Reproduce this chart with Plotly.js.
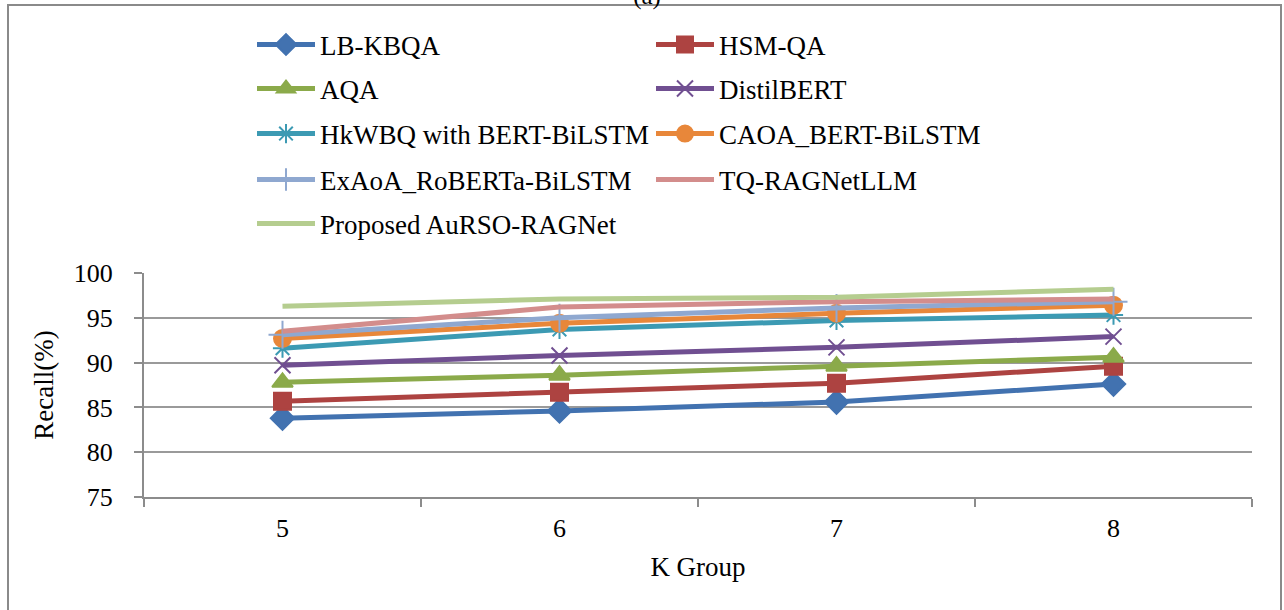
<!DOCTYPE html>
<html>
<head>
<meta charset="utf-8">
<script src="https://cdn.plot.ly/plotly-3.0.1.min.js"></script>
<style>html,body{margin:0;padding:0;background:#fff;}#chart{width:1284px;height:610px;}</style>
</head>
<body>
<div id="chart"></div>
<script>
const kGroups = ['5', '6', '7', '8'];
const seriesNames = ['LB-KBQA', 'HSM-QA', 'AQA', 'DistilBERT', 'HkWBQ with BERT-BiLSTM', 'CAOA_BERT-BiLSTM', 'ExAoA_RoBERTa-BiLSTM', 'TQ-RAGNetLLM', 'Proposed AuRSO-RAGNet'];
const lbKbqa = [83.8, 84.6, 85.6, 87.6];
const hsmQa = [85.7, 86.7, 87.7, 89.6];
const aqa = [87.8, 88.6, 89.6, 90.6];
const distilBert = [89.7, 90.8, 91.7, 92.9];
const hkwbq = [91.6, 93.7, 94.7, 95.3];
const caoa = [92.7, 94.4, 95.5, 96.4];
const exaoa = [93.1, 95.0, 96.1, 96.8];
const tqRag = [93.5, 96.2, 96.8, 97.1];
const proposed = [96.3, 97.1, 97.3, 98.2];
const yTickVals = [75, 80, 85, 90, 95, 100];

const seriesValues = [lbKbqa, hsmQa, aqa, distilBert, hkwbq, caoa, exaoa, tqRag, proposed];
const colors = ['#4272B0', '#AD4341', '#8BAA4A', '#704F91', '#3C9AB3', '#E8873A', '#8FA8D0', '#D38D8C', '#B5CD8F'];
const symbols = ['diamond', 'square', 'triangle-up', 'x-thin-open', 'asterisk-open', 'circle', 'cross-thin-open', null, null];
const sizes = [18, 17, 18, 16, 16, 17, 20, 0, 0];
const legendIds = ['legend', 'legend', 'legend2', 'legend2', 'legend3', 'legend3', 'legend4', 'legend4', 'legend5'];

const FONT = 'Liberation Serif, Times New Roman, serif';

const traces = seriesNames.map((name, i) => {
  const t = {
    type: 'scatter',
    x: kGroups,
    y: seriesValues[i],
    name: name,
    legend: legendIds[i],
    line: {color: colors[i], width: 5},
    hoverinfo: 'x+y+name'
  };
  if (symbols[i]) {
    t.mode = 'lines+markers';
    t.marker = {symbol: symbols[i], size: sizes[i], color: colors[i], line: {color: colors[i], width: 2}};
  } else {
    t.mode = 'lines';
  }
  return t;
});

const W = 1284, H = 610;
const L = 144, R = 1252, T = 273, B = 497;
const px2x = p => (p - L) / (R - L);
const py2y = p => (B - p) / (B - T);

function legendAt(yPix) {
  return {
    orientation: 'h',
    xref: 'container', yref: 'container',
    x: 252 / W, xanchor: 'left',
    y: 1 - yPix / H, yanchor: 'middle',
    entrywidth: 326, entrywidthmode: 'pixels',
    itemwidth: 58,
    font: {family: FONT, size: 27, color: '#000'},
    bgcolor: 'rgba(0,0,0,0)',
    borderwidth: 0,
    tracegroupgap: 0
  };
}

const layout = {
  width: W, height: H,
  margin: {l: L, r: W - R, t: T, b: H - B, pad: 0},
  paper_bgcolor: '#fff', plot_bgcolor: '#fff',
  font: {family: FONT, size: 26, color: '#000'},
  title: {text: '(a)', xref: 'container', yref: 'container', x: 647 / W, xanchor: 'center', y: 1 - 4 / H, yanchor: 'bottom', font: {family: FONT, size: 25, color: '#000'}},
  showlegend: true,
  legend: legendAt(45),
  legend2: legendAt(89),
  legend3: legendAt(134),
  legend4: legendAt(180),
  legend5: legendAt(224),
  xaxis: {
    type: 'category',
    range: [-0.5, 3.5],
    tickson: 'boundaries',
    ticks: 'outside', ticklen: 8, tickwidth: 2, tickcolor: '#8c8c8c',
    showline: true, linecolor: '#8c8c8c', linewidth: 2,
    showgrid: false, zeroline: false,
    tickfont: {family: FONT, size: 26, color: '#000'},
    ticklabelstandoff: 7,
    title: {text: 'K Group', font: {family: FONT, size: 27, color: '#000'}, standoff: 15},
    automargin: false
  },
  yaxis: {
    range: [75, 100],
    tickvals: yTickVals,
    ticks: 'outside', ticklen: 8, tickwidth: 2, tickcolor: '#8c8c8c',
    showline: true, linecolor: '#8c8c8c', linewidth: 2,
    showgrid: true, gridcolor: '#9a9a9a', gridwidth: 2,
    zeroline: false,
    tickfont: {family: FONT, size: 26, color: '#000'},
    ticklabelstandoff: 16,
    title: {text: 'Recall(%)', font: {family: FONT, size: 27, color: '#000'}, standoff: 12},
    automargin: false
  },
  shapes: [{
    type: 'rect', xref: 'paper', yref: 'paper', layer: 'above',
    x0: px2x(8), x1: px2x(1281), y0: py2y(616), y1: py2y(5),
    line: {color: '#8a8a8a', width: 2}, fillcolor: 'rgba(0,0,0,0)'
  }]
};

Plotly.newPlot('chart', traces, layout, {displayModeBar: false, staticPlot: true});
</script>
</body>
</html>
